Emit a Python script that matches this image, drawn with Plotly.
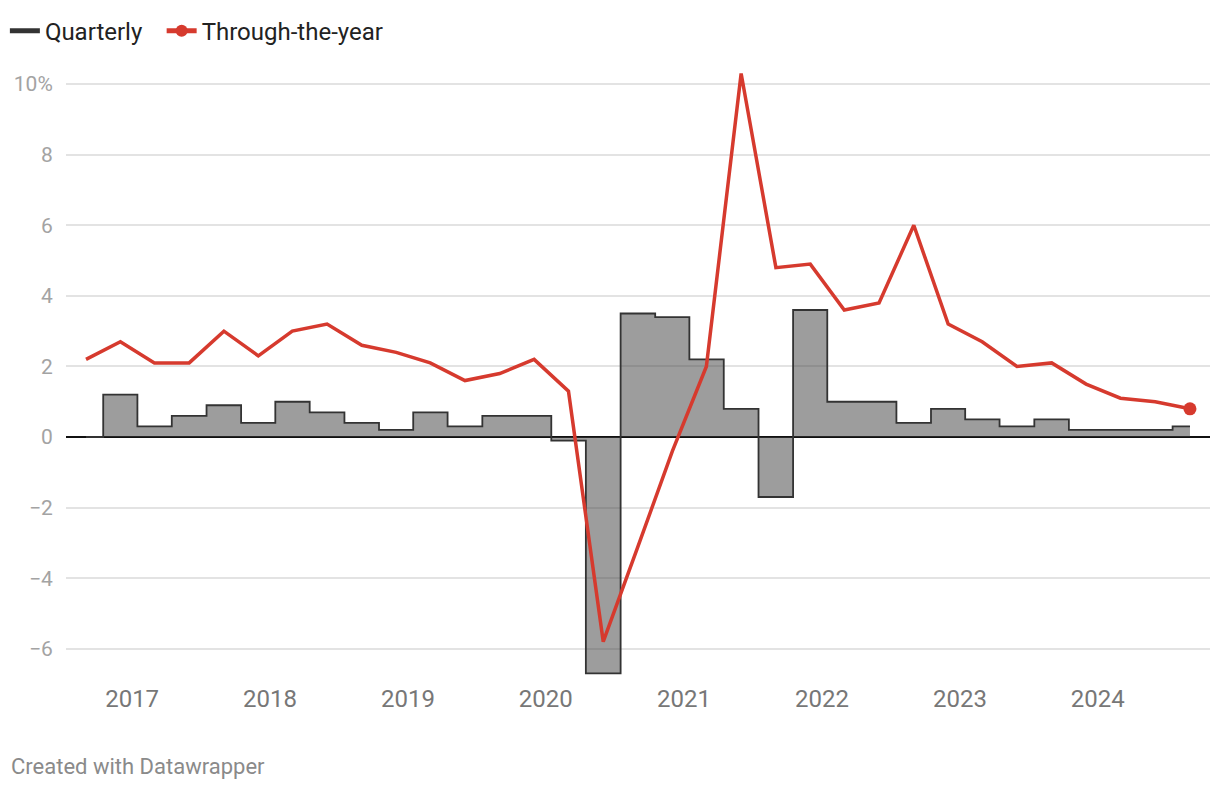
import pandas as pd
import plotly.graph_objects as go

# Quarter dates (Sep 2016 .. Sep 2024)
quarters = [d.strftime("%Y-%m-%d") for d in pd.date_range("2016-09-01", periods=33, freq="3MS")]

quarterly = [0.0, 1.2, 0.3, 0.6, 0.9, 0.4, 1.0, 0.7, 0.4, 0.2, 0.7, 0.3, 0.6, 0.6,
             -0.1, -6.7, 3.5, 3.4, 2.2, 0.8, -1.7, 3.6, 1.0, 1.0, 0.4, 0.8, 0.5,
             0.3, 0.5, 0.2, 0.2, 0.2, 0.3]

through_the_year = [2.2, 2.7, 2.1, 2.1, 3.0, 2.3, 3.0, 3.2, 2.6, 2.4, 2.1, 1.6, 1.8,
                    2.2, 1.3, -5.8, -3.1, -0.4, 2.0, 10.3, 4.8, 4.9, 3.6, 3.8, 6.0,
                    3.2, 2.7, 2.0, 2.1, 1.5, 1.1, 1.0, 0.8]

y_tickvals = [-6, -4, -2, 0, 2, 4, 6, 8, 10]
y_ticktext = ["−6", "−4", "−2", "0", "2", "4", "6", "8", "10%"]
x_tickvals = ["2017-01-01", "2018-01-01", "2019-01-01", "2020-01-01",
              "2021-01-01", "2022-01-01", "2023-01-01", "2024-01-01"]
x_ticktext = ["2017", "2018", "2019", "2020", "2021", "2022", "2023", "2024"]

RED = "#d63a2e"
DARK = "#333333"
FONT = "Roboto"

fig = go.Figure()

# Quarterly step area
fig.add_trace(go.Scatter(
    x=quarters, y=quarterly, mode="lines", line_shape="hvh",
    line=dict(color=DARK, width=1.8), fill="tozeroy",
    fillcolor="rgba(60,60,60,0.5)", showlegend=False, hoverinfo="skip",
))
# legend entry for quarterly (line only)
fig.add_trace(go.Scatter(
    x=[None], y=[None], mode="lines", name="Quarterly",
    line=dict(color=DARK, width=1.6), legend="legend",
))
# Through-the-year line
fig.add_trace(go.Scatter(
    x=quarters, y=through_the_year, mode="lines+markers", name="Through-the-year",
    line=dict(color=RED, width=3.5), legend="legend2",
    marker=dict(size=[0] * (len(quarters) - 1) + [13], color=RED, opacity=1,
                line=dict(width=0)),
))

legend_common = dict(orientation="h", xref="container", yref="container", y=0.989,
                     xanchor="left", yanchor="top", font=dict(size=24, color="#222"),
                     itemsizing="constant", itemwidth=30, bgcolor="rgba(0,0,0,0)")

fig.update_layout(
    width=1220, height=790,
    margin=dict(l=66, r=10, t=70, b=113),
    plot_bgcolor="white", paper_bgcolor="white",
    font=dict(family=FONT, color="#222"),
    legend=dict(x=0.004, **legend_common),
    legend2=dict(x=0.1325, **legend_common),
    xaxis=dict(
        type="date", range=["2016-07-10", "2024-10-24"],
        tickvals=x_tickvals, ticktext=x_ticktext,
        showgrid=False, zeroline=False, showline=False,
        ticks="outside", ticklen=0, tickcolor="rgba(0,0,0,0)",
        tickfont=dict(size=24, color="#777777", family=FONT),
    ),
    yaxis=dict(
        range=[-6.8, 10.4], tickvals=y_tickvals, ticktext=y_ticktext,
        showgrid=True, gridcolor="#e3e3e3", gridwidth=1.5,
        zeroline=True, zerolinecolor="#111111", zerolinewidth=2,
        showline=False, ticks="outside", ticklen=8, tickcolor="rgba(0,0,0,0)",
        tickfont=dict(size=21, color="#a3a3a3", family=FONT),
    ),
    annotations=[dict(
        text="Created with Datawrapper", xref="paper", yref="paper",
        x=-0.0498, y=-0.148, xanchor="left", yanchor="middle", showarrow=False,
        font=dict(size=22, color="#8a8a8a", family=FONT),
    )],
)

fig.write_html("out.html", config={"displayModeBar": False},
               post_script="document.body.style.margin='0';")
